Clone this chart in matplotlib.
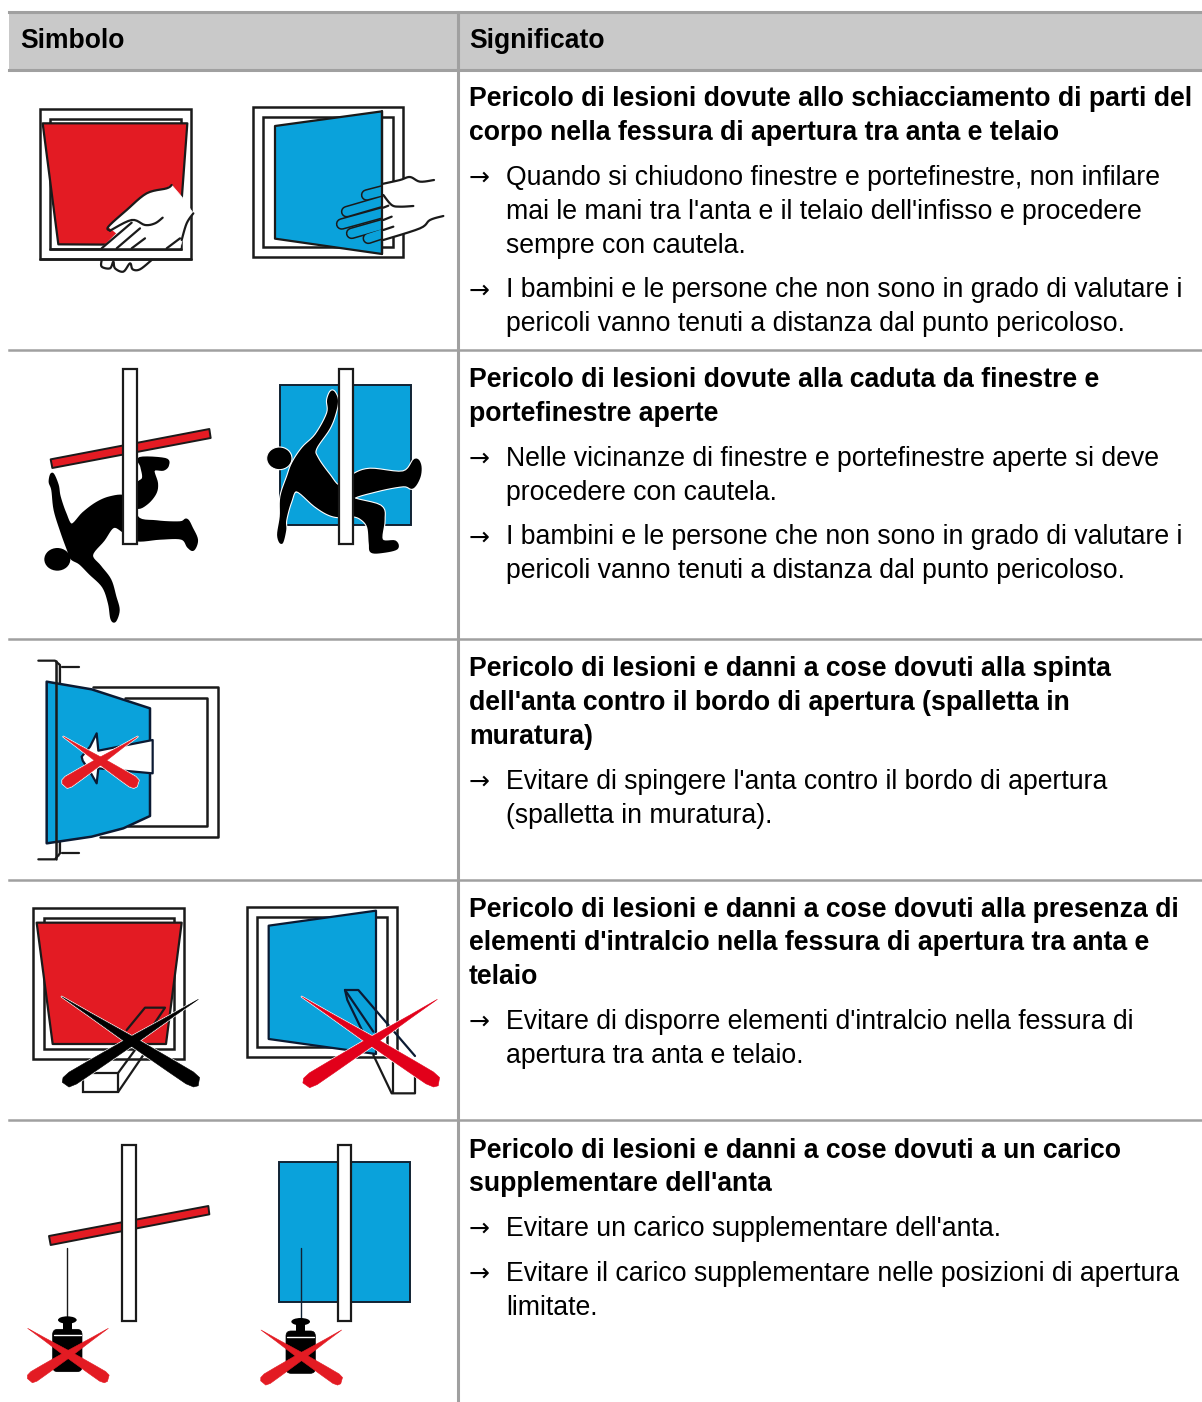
import numpy as np
import matplotlib
matplotlib.use('Agg')
import matplotlib.pyplot as plt
from matplotlib.patches import Polygon, Rectangle, Ellipse, FancyBboxPatch

plt.rcParams['font.family'] = ['Liberation Sans', 'DejaVu Sans']

HEADERS = ['Simbolo', 'Significato']

HEADINGS = [
    ['Pericolo di lesioni dovute allo schiacciamento di parti del',
     'corpo nella fessura di apertura tra anta e telaio'],
    ['Pericolo di lesioni dovute alla caduta da finestre e',
     'portefinestre aperte'],
    ["Pericolo di lesioni e danni a cose dovuti alla spinta",
     "dell'anta contro il bordo di apertura (spalletta in",
     'muratura)'],
    ["Pericolo di lesioni e danni a cose dovuti alla presenza di",
     "elementi d'intralcio nella fessura di apertura tra anta e",
     'telaio'],
    ['Pericolo di lesioni e danni a cose dovuti a un carico',
     "supplementare dell'anta"],
]

BULLETS = [
    [['Quando si chiudono finestre e portefinestre, non infilare',
      "mai le mani tra l'anta e il telaio dell'infisso e procedere",
      'sempre con cautela.'],
     ['I bambini e le persone che non sono in grado di valutare i',
      'pericoli vanno tenuti a distanza dal punto pericoloso.']],
    [['Nelle vicinanze di finestre e portefinestre aperte si deve',
      'procedere con cautela.'],
     ['I bambini e le persone che non sono in grado di valutare i',
      'pericoli vanno tenuti a distanza dal punto pericoloso.']],
    [["Evitare di spingere l'anta contro il bordo di apertura",
      '(spalletta in muratura).']],
    [["Evitare di disporre elementi d'intralcio nella fessura di",
      'apertura tra anta e telaio.']],
    [["Evitare un carico supplementare dell'anta."],
     ['Evitare il carico supplementare nelle posizioni di apertura',
      'limitate.']],
]

ROW_LINES = [350, 639, 880, 1120]
TEXT_START = [106.4, 387.2, 676.5, 916.6, 1157.5]

GREY = '#a0a0a0'
HEAD_BG = '#c9c9c9'
RED = '#e31b23'
BLUE = '#0aa2db'
INK = '#1a1a1a'
NAVY = '#0b1a33'

fig = plt.figure(figsize=(12.02, 14.02), dpi=100)
ax = fig.add_axes([0, 0, 1, 1])
ax.set_xlim(0, 1202)
ax.set_ylim(1402, 0)
ax.axis('off')


# pictograms were measured on 3x crops, each with its own y offset
def z(pts, oy):
    return [(x / 3, y / 3 + oy) for x, y in pts]


def smooth(pts, closed=True, n=6):
    # catmull-rom through the traced points
    p = np.array(pts, float)
    idx = range(len(p)) if closed else range(len(p) - 1)
    out = []
    m = len(p)
    for i in idx:
        if closed:
            a, b, c, d = p[(i - 1) % m], p[i], p[(i + 1) % m], p[(i + 2) % m]
        else:
            a, b, c, d = p[max(i - 1, 0)], p[i], p[i + 1], p[min(i + 2, m - 1)]
        for t in np.linspace(0, 1, n, endpoint=False):
            out.append(0.5 * (2 * b + (c - a) * t + (2 * a - 5 * b + 4 * c - d) * t ** 2
                              + (3 * b - a - 3 * c + d) * t ** 3))
    if not closed:
        out.append(p[-1])
    return [tuple(q) for q in out]


def poly(pts, oy, fc='none', ec=INK, lw=1.6, zo=3, closed=True):
    ax.add_patch(Polygon(z(pts, oy), closed=closed, facecolor=fc, edgecolor=ec,
                         linewidth=lw, zorder=zo, joinstyle='round'))


def line(pts, oy, color=INK, lw=1.6, zo=3):
    p = np.array(z(pts, oy))
    ax.plot(p[:, 0], p[:, 1], color=color, lw=lw, zorder=zo, solid_capstyle='round')


def curve(pts, oy, color=INK, lw=1.6, zo=3):
    line(smooth(pts, closed=False), oy, color=color, lw=lw, zo=zo)


def box(x0, y0, x1, y1, oy, fc='none', ec=INK, lw=1.6, zo=3):
    ax.add_patch(Rectangle((x0 / 3, y0 / 3 + oy), (x1 - x0) / 3, (y1 - y0) / 3,
                           facecolor=fc, edgecolor=ec, linewidth=lw, zorder=zo))


def blade(tip, end, width, oy, color, zo=6, edge=None):
    # thin at the tip, widening to a rounded end
    tip = np.array(tip, float)
    end = np.array(end, float)
    d = end - tip
    n = np.array([-d[1], d[0]]) / np.hypot(*d)
    fr = [0, .2, .5, .8, .93, .98, 1.0]
    wd = [0, .22, .62, .9, 1, .8, .3]
    left = [tip + d * f + n * w * width / 2 for f, w in zip(fr, wd)]
    right = [tip + d * f - n * w * width / 2 for f, w in zip(fr, wd)]
    pts = left + right[::-1][1:]
    if edge:
        poly(pts, oy, fc=edge, ec=edge, lw=1.4, zo=zo - 1)
    poly(pts, oy, fc=color, ec=color, lw=0.4, zo=zo)


def cross(tl, br, tr, bl, width, oy, color, edge='white'):
    blade(tl, br, width, oy, color, edge=edge)
    blade(tr, bl, width, oy, color, edge=edge)


def weight(cx, ty, oy):
    ax.add_patch(FancyBboxPatch(((cx - 44) / 3, (ty + 38) / 3 + oy), 88 / 3, 127 / 3,
                                boxstyle='round,pad=0,rounding_size=5', fc='black', ec='black',
                                lw=0.5, zorder=4))
    ax.add_patch(Ellipse((cx / 3, (ty + 10) / 3 + oy), 56 / 3, 22 / 3, fc='black', ec='none', zorder=4))
    box(cx - 14, ty + 10, cx + 14, ty + 42, oy, fc='black', ec='black', lw=0, zo=4)
    line([(cx - 40, ty + 55), (cx + 40, ty + 55)], oy, color='white', lw=1.0, zo=5)


# table
ax.add_patch(Rectangle((9, 12), 1193, 57, fc=HEAD_BG, ec='none', zorder=1))
ax.plot([9, 1202], [12, 12], color=GREY, lw=2.2, zorder=2)
ax.plot([9, 1202], [69.5, 69.5], color=GREY, lw=2.2, zorder=2)
for row_y in ROW_LINES:
    ax.plot([9, 1202], [row_y, row_y], color=GREY, lw=1.8, zorder=2)
ax.plot([457.5, 457.5], [12, 1402], color=GREY, lw=2.2, zorder=2)

ax.text(20, 48, HEADERS[0], fontsize=19.1, fontweight='bold', color='black')
ax.text(469, 48, HEADERS[1], fontsize=19.1, fontweight='bold', color='black')

# text column
for start, heading, bullets in zip(TEXT_START, HEADINGS, BULLETS):
    y = start
    for txt in heading:
        ax.text(469, y, txt, fontsize=19.2, fontweight='bold', color='black')
        y += 33.8
    for para in bullets:
        y += 11
        ax.text(469, y, '\u2192', fontsize=18, family='DejaVu Sans', color='black')
        for txt in para:
            ax.text(506, y, txt, fontsize=19.2, color='black')
            y += 33.8

# row 1, red window
oy = 0
box(120, 326, 572, 778, oy, lw=1.8)
box(150, 356, 542, 748, oy, lw=1.8)
poly([(128, 370), (562, 370), (535, 735), (175, 733)], oy, fc=RED, lw=1.6)
poly([(325, 680), (440, 580), (500, 565), (515, 555), (545, 590), (580, 640), (560, 670), (540, 745),
      (305, 745), (350, 700)], oy, fc='white', ec='white', lw=0.5, zo=4)
curve([(330, 692), (325, 680), (380, 630), (440, 580), (500, 565), (515, 555)], oy, zo=5)
curve([(330, 692), (395, 660), (435, 675), (465, 670), (488, 653)], oy, zo=5)
line([(305, 745), (395, 668)], oy, zo=5)
line([(350, 745), (420, 685)], oy, zo=5)
line([(395, 745), (435, 715)], oy, zo=5)
line([(500, 745), (540, 715)], oy, zo=5)
curve([(580, 640), (560, 670), (545, 720)], oy, zo=5)
line([(150, 748), (542, 748)], oy, lw=1.8, zo=5)
line([(120, 778), (572, 778)], oy, lw=1.8, zo=5)
curve([(305, 780), (305, 800), (330, 805), (340, 785), (345, 805), (370, 815), (390, 790),
       (398, 808), (420, 808), (455, 780)], oy, zo=5)

# row 1, blue window
box(760, 322, 1210, 772, oy, lw=1.8)
box(790, 352, 1180, 742, oy, lw=1.8)
poly([(825, 378), (1146, 334), (1146, 762), (825, 716)], oy, fc=BLUE, lw=1.6)
for x0, y0, x1, y1 in [(1100, 585, 1150, 572), (1040, 635, 1160, 600), (1025, 672, 1170, 632),
                       (1055, 700, 1178, 665), (1105, 715, 1150, 700)]:
    line([(x0, y0), (x1, y1)], oy, color=INK, lw=8.4, zo=4)
for x0, y0, x1, y1 in [(1100, 585, 1150, 572), (1040, 635, 1160, 600), (1025, 672, 1170, 632),
                       (1055, 700, 1178, 665), (1105, 715, 1150, 700)]:
    line([(x0, y0), (x1, y1)], oy, color=BLUE, lw=6.2, zo=4.5)
poly([(1147, 553), (1200, 540), (1230, 530), (1260, 545), (1300, 540), (1330, 648), (1290, 660),
      (1260, 685), (1147, 724)], oy, fc='white', ec='none', lw=0, zo=5)
curve([(1146, 552), (1200, 540), (1230, 531), (1260, 545), (1302, 540)], oy, zo=6)
curve([(1150, 720), (1260, 685), (1290, 660), (1330, 648)], oy, zo=6)
line([(1146, 334), (1146, 762)], oy, lw=1.6, zo=6)
curve([(1150, 585), (1175, 615), (1200, 620), (1240, 618)], oy, zo=6)
line([(1150, 623), (1165, 617)], oy, zo=6)
line([(1150, 660), (1175, 650)], oy, zo=6)
line([(1150, 690), (1180, 680)], oy, zo=6)

# row 2, falling man with red leaf
oy = 350
man_a = [(157, 372), (172, 405), (178, 440), (195, 490), (215, 525), (250, 490), (290, 460), (330, 443),
         (375, 440), (410, 472), (440, 460), (465, 430), (470, 400), (460, 360), (490, 358), (503, 345),
         (495, 328), (420, 325), (425, 350), (430, 385), (410, 410), (410, 500), (470, 515), (540, 518),
         (560, 510), (575, 535), (590, 570), (580, 598), (565, 590), (545, 565), (480, 565), (410, 570),
         (372, 545), (340, 530), (310, 570), (275, 615), (300, 650), (330, 690), (345, 740), (355, 780),
         (345, 812), (335, 805), (328, 760), (310, 710), (270, 670), (240, 640), (215, 625), (205, 600),
         (185, 545), (165, 480), (158, 420), (150, 395)]
poly(smooth(man_a), oy, fc='black', ec='black', lw=2.0, zo=3)
ax.add_patch(Ellipse((172 / 3, 628 / 3 + oy), 78 / 3, 68 / 3, fc='black', ec='none', zorder=3))
poly([(152, 328), (628, 237), (632, 264), (157, 354)], oy, fc=RED, ec=INK, lw=1.4, zo=3)
box(370, 57, 410, 583, oy, fc='white', lw=1.6, zo=4)

box(840, 105, 1232, 525, oy, fc=BLUE, ec='#112233', lw=1.4, zo=2.5)
man_b = [(997, 125), (1010, 150), (1003, 190), (985, 235), (945, 295), (950, 325), (985, 375), (1018, 410),
         (1058, 378), (1110, 360), (1210, 368), (1245, 330), (1260, 345), (1258, 380), (1238, 412),
         (1210, 405), (1130, 420), (1058, 445), (1140, 470), (1150, 510), (1145, 570), (1185, 575),
         (1190, 595), (1150, 605), (1115, 605), (1110, 580), (1105, 530), (1085, 505), (1058, 495),
         (1018, 498), (985, 490), (945, 465), (890, 420), (870, 455), (855, 510), (855, 540), (845, 578),
         (835, 555), (843, 500), (845, 440), (865, 380), (880, 340), (910, 295), (950, 255), (985, 190),
         (985, 150)]
ax.add_patch(Ellipse((838 / 3, 325 / 3 + oy), 76 / 3, 68 / 3, fc='black', ec='white', lw=0.8, zorder=3))
poly(smooth(man_b), oy, fc='black', ec='white', lw=3.4, zo=3.05)
poly(smooth(man_b), oy, fc='black', ec='black', lw=1.8, zo=3.1)
box(1018, 57, 1058, 583, oy, fc='white', lw=1.6, zo=4)

# row 3, leaf against the reveal
oy = 640
line([(280, 141), (653, 141), (653, 591), (300, 591)], oy, lw=1.8)
line([(375, 173), (622, 173), (622, 559), (385, 559)], oy, lw=1.8)
box(168, 70, 180, 650, oy, fc='#d8d8d8', ec='none', lw=0, zo=2.5)
line([(115, 62), (165, 62), (180, 75), (180, 128)], oy, lw=1.6)
line([(185, 82), (238, 82)], oy, lw=1.6)
line([(115, 658), (165, 658), (180, 640), (180, 605)], oy, lw=1.6)
line([(185, 638), (238, 638)], oy, lw=1.6)
poly([(140, 125), (275, 148), (450, 205), (450, 528), (370, 565), (275, 590), (140, 610)], oy,
     fc=BLUE, ec=NAVY, lw=1.8, zo=3)
line([(168, 62), (168, 658)], oy, lw=1.8, zo=4)
poly([(290, 280), (270, 320), (245, 350), (248, 362), (270, 395), (290, 430), (295, 385), (458, 400),
      (458, 300), (295, 332)], oy, fc='white', ec=NAVY, lw=1.6, zo=4)
cross((190, 290), (413, 435), (413, 290), (190, 435), 34, oy, RED)

# row 4, obstacle in the gap
oy = 880
box(100, 85, 552, 538, oy, lw=1.8)
box(132, 115, 522, 507, oy, lw=1.8)
poly([(110, 128), (545, 128), (498, 492), (158, 492)], oy, fc=RED, lw=1.6)
line([(380, 450), (435, 383), (495, 383), (450, 450)], oy, zo=4)
box(250, 578, 355, 635, oy, fc='white', lw=1.6, zo=4)
line([(355, 578), (405, 510)], oy, zo=4)
line([(355, 635), (430, 525)], oy, zo=4)
cross((185, 350), (598, 612), (595, 358), (190, 612), 42, oy, 'black')

box(742, 82, 1190, 532, oy, fc='white', lw=1.8, zo=2)
box(772, 112, 1160, 502, oy, lw=1.8)
poly([(806, 137), (1128, 92), (1128, 522), (806, 477)], oy, fc=BLUE, ec=NAVY, lw=1.6)
line([(1035, 330), (1075, 330), (1245, 528)], oy, color=NAVY, zo=4)
line([(1035, 330), (1120, 455)], oy, color=NAVY, zo=4)
line([(1035, 330), (1042, 360), (1110, 500)], oy, color=NAVY, zo=4)
line([(1120, 525), (1175, 640), (1245, 640), (1245, 585)], oy, zo=4)
line([(1178, 545), (1178, 640)], oy, zo=4)
cross((905, 350), (1318, 612), (1312, 358), (912, 614), 42, oy, '#e2001a')

# row 5, extra load
oy = 1120
poly([(147, 348), (625, 258), (628, 283), (152, 375)], oy, fc=RED, ec=INK, lw=1.4)
box(367, 75, 407, 603, oy, fc='white', lw=1.6, zo=4)
line([(201, 385), (201, 595)], oy, lw=1.0)
weight(202, 590, oy)
cross((83, 625), (325, 780), (325, 625), (85, 780), 34, oy, RED, edge=None)

box(838, 125, 1230, 547, oy, fc=BLUE, ec='#112233', lw=1.4, zo=2.5)
box(1014, 75, 1054, 603, oy, fc='white', lw=1.6, zo=4)
line([(902, 385), (902, 600)], oy, color='#112233', lw=1.0)
weight(902, 595, oy)
cross((783, 630), (1025, 787), (1025, 630), (785, 787), 34, oy, RED, edge=None)

fig.savefig('out.png', dpi=100)
